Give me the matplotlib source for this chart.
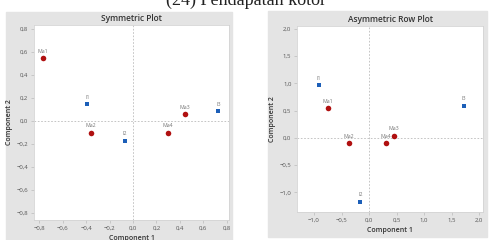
import matplotlib
matplotlib.use("Agg")
import matplotlib.pyplot as plt
from matplotlib.patches import Rectangle
from matplotlib.ticker import FuncFormatter, MultipleLocator

plt.rcParams['font.family'] = ['Open Sans', 'DejaVu Sans']

# symmetric plot
sym_row_lab = ['Ma1', 'Ma2', 'Ma3', 'Ma4']
sym_row_x = [-0.77, -0.36, 0.44, 0.30]
sym_row_y = [0.55, -0.10, 0.06, -0.10]
sym_col_lab = ['I1', 'I2', 'I3']
sym_col_x = [-0.39, -0.07, 0.73]
sym_col_y = [0.15, -0.17, 0.09]

# asymmetric row plot
asy_row_lab = ['Ma1', 'Ma2', 'Ma4', 'Ma3']
asy_row_x = [-0.75, -0.36, 0.31, 0.45]
asy_row_y = [0.54, -0.09, -0.09, 0.04]
asy_col_lab = ['I1', 'I2', 'I3']
asy_col_x = [-0.91, -0.16, 1.72]
asy_col_y = [0.97, -1.17, 0.59]

red = '#b01010'
blue = '#1c5fb8'
grey = '#e4e4e4'

fig = plt.figure(figsize=(4.92, 2.40), dpi=100)

# grey panels behind each plot
fig.patches.append(Rectangle((6/492, 0), 226/492, 228/240, transform=fig.transFigure,
                             color=grey, zorder=-5))
fig.patches.append(Rectangle((268/492, 3/240), 219/492, 226/240, transform=fig.transFigure,
                             color=grey, zorder=-5))

fig.text(0.5, 1.0, '(24) Pendapatan kotor', ha='center', va='center',
         fontsize=13, family='Liberation Serif', color='#222222')

comma = FuncFormatter(lambda v, p: f"{v:.1f}".replace('.', ',').replace('-', '\u2212'))


def draw(ax, rx, ry, rl, cx, cy, cl, title, step):
    ax.axvline(0, color='#bbbbbb', ls=(0, (2, 2)), lw=0.6, zorder=1)
    ax.axhline(0, color='#bbbbbb', ls=(0, (2, 2)), lw=0.6, zorder=1)
    ax.scatter(rx, ry, s=16, c=red, marker='o', zorder=3, linewidths=0)
    ax.scatter(cx, cy, s=10, c=blue, marker='s', zorder=3, linewidths=0)
    for x, y, t in zip(rx + cx, ry + cy, rl + cl):
        ax.annotate(t, (x, y), xytext=(0, 3), textcoords='offset points',
                    ha='center', va='bottom', fontsize=3.8, color='#777777')
    ax.xaxis.set_major_locator(MultipleLocator(step[0]))
    ax.yaxis.set_major_locator(MultipleLocator(step[1]))
    ax.xaxis.set_major_formatter(comma)
    ax.yaxis.set_major_formatter(comma)
    ax.tick_params(labelsize=4.3, colors='#555555', length=2, width=0.5, pad=2)
    ax.tick_params(colors='#bbbbbb', labelcolor='#555555')
    for s in ax.spines.values():
        s.set_color('#d4d4d4')
        s.set_linewidth(0.6)
    ax.set_xlabel('Component 1', fontsize=5, color='#333333', fontweight='semibold', labelpad=3)
    ax.set_ylabel('Component 2', fontsize=5, color='#333333', fontweight='semibold', labelpad=3)
    ax.set_title(title, fontsize=6, color='#333333', fontweight='semibold', pad=3)


ax1 = fig.add_axes([34/492, 1 - 220/240, 195/492, 195/240])
draw(ax1, sym_row_x, sym_row_y, sym_row_lab, sym_col_x, sym_col_y, sym_col_lab,
     'Symmetric Plot', (0.2, 0.2))
ax1.set_xlim(-0.847, 0.82)
ax1.set_ylim(-0.86, 0.835)

ax2 = fig.add_axes([297/492, 1 - 212/240, 186/492, 186/240])
draw(ax2, asy_row_x, asy_row_y, asy_row_lab, asy_col_x, asy_col_y, asy_col_lab,
     'Asymmetric Row Plot', (0.5, 0.5))
ax2.set_xlim(-1.31, 2.07)
ax2.set_ylim(-1.36, 2.05)

fig.savefig('out.png', dpi=100)
